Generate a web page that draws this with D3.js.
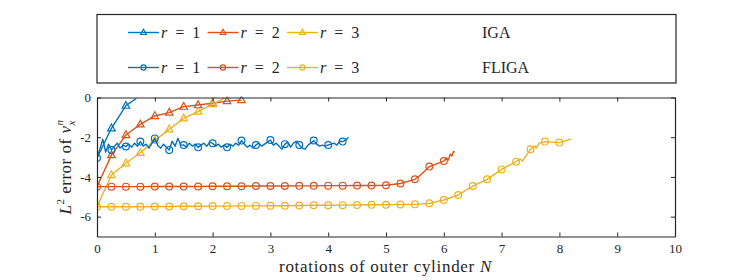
<!DOCTYPE html>
<html><head><meta charset="utf-8">
<script src="https://cdn.jsdelivr.net/npm/d3@7"></script>
<style>body{margin:0;background:#fff}svg{display:block}text{font-family:"Liberation Serif","DejaVu Serif",serif}</style>
</head><body>
<svg id="c" width="747" height="280"></svg>
<script>
const colors = ["#0072BD", "#D95319", "#EDB120"];
const xTicks = [0,1,2,3,4,5,6,7,8,9,10];
const yTicks = [0,-2,-4,-6];
const xLabel = "rotations of outer cylinder ";

// IGA series (triangles)
const igaR1N = [0, 0.25, 0.5, 0.68];
const igaR1E = [-3.05, -1.55, -0.41, -0.05];
const igaR2N = [0, 0.25, 0.5, 0.75, 1.0, 1.25, 1.5, 1.75, 2.0, 2.25, 2.5];
const igaR2E = [-4.49, -2.9, -1.89, -1.35, -0.93, -0.76, -0.46, -0.38, -0.29, -0.18, -0.13];
const igaR3N = [0, 0.25, 0.5, 0.75, 1.0, 1.25, 1.5, 1.75, 2.0, 2.2];
const igaR3E = [-5.5, -3.9, -3.31, -2.78, -2.17, -1.6, -1.05, -0.71, -0.33, -0.05];

// FLIGA series (circles)
const fligaR1N = d3.range(88).map(i => +(i*0.05).toFixed(2));
const fligaR1E = [-3.05,-2.6,-2.1,-2.75,-2.35,-2.64,-2.45,-2.3,-2.55,-2.4,
  -2.47,-2.35,-2.5,-2.3,-2.45,-2.22,-2.45,-2.35,-2.55,-2.3,
  -2.06,-2.4,-2.55,-2.35,-2.5,-2.64,-2.2,-2.45,-2.05,-2.4,
  -2.39,-2.5,-2.3,-2.45,-2.35,-2.51,-2.4,-2.3,-2.45,-2.25,
  -2.31,-2.45,-2.35,-2.5,-2.4,-2.51,-2.35,-2.45,-2.3,-2.4,
  -2.17,-2.35,-2.5,-2.4,-2.55,-2.39,-2.3,-2.45,-2.35,-2.25,
  -2.14,-2.4,-2.3,-2.45,-2.6,-2.35,-2.25,-2.5,-2.3,-2.2,
  -2.39,-2.55,-2.6,-2.4,-2.3,-2.17,-2.35,-2.45,-2.4,-2.45,
  -2.39,-2.35,-2.3,-2.4,-2.2,-2.22,-2.15,-2.0];
const fligaR2N = [0,0.25,0.5,0.75,1,1.25,1.5,1.75,2,2.25,2.5,2.75,3,3.25,3.5,3.75,4,4.25,4.5,4.75,5,5.25,5.5,5.6,5.75,6.0,6.05,6.08,6.11,6.14,6.17,6.19];
const fligaR2E = [-4.49,-4.49,-4.49,-4.49,-4.48,-4.48,-4.48,-4.48,-4.47,-4.47,-4.47,-4.46,-4.46,-4.46,-4.45,-4.45,-4.44,-4.44,-4.43,-4.43,-4.42,-4.33,-4.12,-3.9,-3.48,-3.2,-3.05,-3.15,-2.85,-2.95,-2.72,-2.75];
const fligaR3N = [0,0.25,0.5,0.75,1,1.25,1.5,1.75,2,2.25,2.5,2.75,3,3.25,3.5,3.75,4,4.25,4.5,4.75,5,5.25,5.5,5.75,6.0,6.25,6.5,6.75,7.0,7.25,7.32,7.36,7.5,7.58,7.6,7.65,7.75,8.0,8.2];
const fligaR3E = [-5.5,-5.5,-5.5,-5.5,-5.49,-5.49,-5.48,-5.48,-5.47,-5.47,-5.46,-5.46,-5.45,-5.45,-5.44,-5.43,-5.43,-5.42,-5.41,-5.4,-5.4,-5.39,-5.38,-5.33,-5.16,-4.91,-4.46,-4.12,-3.62,-3.23,-3.1,-3.2,-2.61,-2.45,-2.55,-2.3,-2.22,-2.27,-2.1];

const series = [
  {n: igaR1N, e: igaR1E, c: 0, m: "tri"},
  {n: igaR2N, e: igaR2E, c: 1, m: "tri"},
  {n: igaR3N, e: igaR3E, c: 2, m: "tri"},
  {n: fligaR1N, e: fligaR1E, c: 0, m: "circ"},
  {n: fligaR2N, e: fligaR2E, c: 1, m: "circ"},
  {n: fligaR3N, e: fligaR3E, c: 2, m: "circ"}
];

const svg = d3.select("#c");
const L = 97, R = 675, T = 97.5, B = 236.5;
const x = d3.scaleLinear([0,10],[L,R]);
const y = d3.scaleLinear([-7,0],[B,T]);
const axisColor = "#262626";
const serif = '"Liberation Serif","DejaVu Serif",serif';

svg.append("defs").append("clipPath").attr("id","pc")
  .append("rect").attr("x",L).attr("y",T-1).attr("width",R-L).attr("height",B-T+1);

const plot = svg.append("g").attr("clip-path","url(#pc)");
const line = d3.line().x(d=>x(d[0])).y(d=>y(d[1]));
const triPath = "M0,-4.2L3.8,2.6L-3.8,2.6Z";

function isMark(v){ const q = v/0.25; return Math.abs(q-Math.round(q))<1e-6; }

series.forEach(s => {
  const pts = s.n.map((v,i)=>[v, s.e[i]]);
  const col = colors[s.c];
  plot.append("path").attr("d", line(pts)).attr("fill","none")
    .attr("stroke", col).attr("stroke-width",1.4).attr("stroke-linejoin","round");
  const mk = pts.filter(p => isMark(p[0]) && (s.m==="circ" || p[0]>0));
  if (s.m === "tri") {
    plot.selectAll(null).data(mk).enter().append("path")
      .attr("d", triPath).attr("transform", d=>`translate(${x(d[0])},${y(d[1])})`)
      .attr("fill","none").attr("stroke",col).attr("stroke-width",1.2);
  } else {
    plot.selectAll(null).data(mk).enter().append("circle")
      .attr("cx", d=>x(d[0])).attr("cy", d=>y(d[1])).attr("r",3.4)
      .attr("fill","none").attr("stroke",col).attr("stroke-width",1.2);
  }
});

// axes
const ax = svg.append("g").attr("transform",`translate(0,${B})`)
  .call(d3.axisBottom(x).tickValues(xTicks).tickSizeInner(-4).tickSizeOuter(0).tickPadding(7).tickFormat(d3.format("d")));
const axT = svg.append("g").attr("transform",`translate(0,${T})`)
  .call(d3.axisTop(x).tickValues(xTicks).tickSizeInner(-4).tickSizeOuter(0).tickFormat(""));
const ay = svg.append("g").attr("transform",`translate(${L},0)`)
  .call(d3.axisLeft(y).tickValues(yTicks).tickSizeInner(-4).tickSizeOuter(0).tickPadding(6).tickFormat(d=>d===0?"0":"-"+Math.abs(d)));
const ayR = svg.append("g").attr("transform",`translate(${R},0)`)
  .call(d3.axisRight(y).tickValues(yTicks).tickSizeInner(-4).tickSizeOuter(0).tickFormat(""));
[ax,axT,ay,ayR].forEach(g=>{
  g.attr("font-family", serif);
  g.select(".domain").attr("stroke",axisColor).attr("stroke-width",1.2);
  g.selectAll(".tick line").attr("stroke",axisColor).attr("stroke-width",1);
  g.selectAll("text").attr("fill","#262626").attr("font-size",13);
});

// x label
const xl = svg.append("text").attr("x",(L+R)/2 - 0.5).attr("y",272).attr("text-anchor","middle")
  .attr("font-size",17).attr("letter-spacing",0.7).attr("fill","#262626");
xl.append("tspan").text(xLabel);
xl.append("tspan").attr("font-style","italic").text("N");

// y label
const yl = svg.append("text").attr("transform",`translate(71,${(T+B)/2}) rotate(-90)`)
  .attr("text-anchor","middle").attr("font-size",17).attr("letter-spacing",0.5).attr("fill","#262626");
yl.append("tspan").attr("font-style","italic").text("L");
yl.append("tspan").attr("font-size",11).attr("dy",-7).text("2");
yl.append("tspan").attr("dy",7).text(" error of ");
yl.append("tspan").attr("font-style","italic").text("v");
yl.append("tspan").attr("font-size",11).attr("font-style","italic").attr("dy",-8).text("n");
yl.append("tspan").attr("font-size",11).attr("font-style","italic").attr("dx",-6).attr("dy",12).text("x");

// legend
const lg = svg.append("g");
lg.append("rect").attr("x",97).attr("y",14.5).attr("width",579).attr("height",68.5)
  .attr("fill","#fff").attr("stroke",axisColor).attr("stroke-width",1.2);
const legendRows = [{m:"tri", label:"IGA", y:32.5}, {m:"circ", label:"FLIGA", y:67.5}];
const legendR = [1,2,3];
const itemX = [128, 207.5, 287];
legendRows.forEach(row => {
  legendR.forEach((r,i) => {
    const x0 = itemX[i], col = colors[i];
    lg.append("line").attr("x1",x0).attr("x2",x0+31).attr("y1",row.y).attr("y2",row.y)
      .attr("stroke",col).attr("stroke-width",1.4);
    if (row.m==="tri") lg.append("path").attr("d","M0,-3.2L2.9,2L-2.9,2Z")
      .attr("transform",`translate(${x0+15.5},${row.y})`).attr("fill","none").attr("stroke",col).attr("stroke-width",1.2);
    else lg.append("circle").attr("cx",x0+15.5).attr("cy",row.y).attr("r",2.6)
      .attr("fill","none").attr("stroke",col).attr("stroke-width",1.2);
    const t = lg.append("text").attr("x",x0+33).attr("y",row.y+5.5).attr("font-size",16).attr("fill","#262626");
    t.append("tspan").attr("font-style","italic").text("r");
    t.append("tspan").attr("xml:space","preserve").text("  =  " + r);
  });
  lg.append("text").attr("x",482).attr("y",row.y+5.5).attr("font-size",16).attr("fill","#262626").text(row.label);
});
</script>
</body></html>
